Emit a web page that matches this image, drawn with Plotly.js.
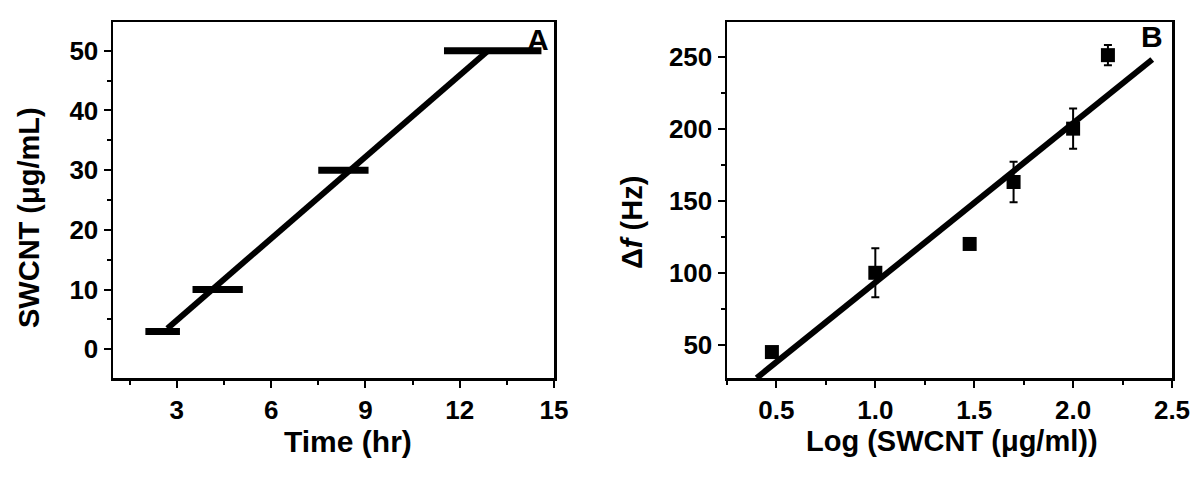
<!DOCTYPE html>
<html>
<head>
<meta charset="utf-8">
<script src="https://cdn.plot.ly/plotly-3.0.1.min.js"></script>
<style>html,body{margin:0;padding:0;background:#fff;}#chart{width:1200px;height:485px;}</style>
</head>
<body>
<div id="chart"></div>
<script>
// Panel A: SWCNT concentration steps over time
const timeStart = [2.0, 3.5, 7.5, 11.5];
const timeEnd   = [3.1, 5.1, 9.1, 14.6];
const concA     = [3, 10, 30, 50];
const fitTimeA  = [2.7, 12.9];
const fitConcA  = [3.5, 50];

// Panel B: frequency shift vs log concentration
const logConc = [0.477, 1.0, 1.477, 1.699, 2.0, 2.176];
const deltaF  = [45, 100, 120, 163, 200, 251];
const errF    = [3, 17, 3, 14, 14, 7];
const fitLogB = [0.40, 2.40];
const fitDfB  = [27, 248];

// tick labels
const xTicksA = [3, 6, 9, 12, 15];
const yTicksA = [0, 10, 20, 30, 40, 50];
const xTicksB = [0.5, 1.0, 1.5, 2.0, 2.5];
const xTickTextB = ["0.5", "1.0", "1.5", "2.0", "2.5"];
const yTicksB = [50, 100, 150, 200, 250];

const segX = [], segY = [];
for (let i = 0; i < concA.length; i++) {
  segX.push(timeStart[i], timeEnd[i], null);
  segY.push(concA[i], concA[i], null);
}

const FONT = "Arial, 'Liberation Sans', 'DejaVu Sans', sans-serif";
const tickFont = {family: FONT, size: 26, color: '#000', weight: 'bold'};
const titleFont = {family: FONT, size: 29, color: '#000', weight: 'bold'};
const titleFontBig = {family: FONT, size: 30, color: '#000', weight: 'bold'};

const traces = [
  {x: segX, y: segY, mode: 'lines', line: {color: '#000', width: 7}, xaxis: 'x', yaxis: 'y', hoverinfo: 'skip'},
  {x: fitTimeA, y: fitConcA, mode: 'lines', line: {color: '#000', width: 6}, xaxis: 'x', yaxis: 'y'},
  {x: fitLogB, y: fitDfB, mode: 'lines', line: {color: '#000', width: 6}, xaxis: 'x2', yaxis: 'y2'},
  {x: logConc, y: deltaF, mode: 'markers', marker: {symbol: 'square', size: 14, color: '#000'},
   error_y: {type: 'data', array: errF, visible: true, color: '#000', thickness: 2, width: 4},
   xaxis: 'x2', yaxis: 'y2'}
];

const axBase = {
  showline: true, linecolor: '#000', linewidth: 2.5, mirror: true,
  ticks: 'outside', ticklen: 7, tickwidth: 2, tickcolor: '#000',
  showgrid: false, zeroline: false, tickfont: tickFont, fixedrange: true
};

const yDom = [1 - 378/485, 1 - 22/485];

const layout = {
  width: 1200, height: 485,
  margin: {l: 0, r: 0, t: 0, b: 0},
  paper_bgcolor: '#fff', plot_bgcolor: '#fff',
  showlegend: false,
  xaxis: Object.assign({}, axBase, {domain: [113/1200, 554/1200], range: [0.97, 15],
    tickvals: xTicksA, minor: {ticks: 'outside', ticklen: 4, tickwidth: 2, tickcolor: '#000', dtick: 1.5, tick0: 0}, anchor: 'y'}),
  yaxis: Object.assign({}, axBase, {domain: yDom, range: [-4.8, 54.8],
    tickvals: yTicksA, minor: {ticks: 'outside', ticklen: 4, tickwidth: 2, tickcolor: '#000', dtick: 5, tick0: 0}, anchor: 'x'}),
  xaxis2: Object.assign({}, axBase, {domain: [727/1200, 1172/1200], range: [0.25, 2.5],
    tickvals: xTicksB, ticktext: xTickTextB, minor: {ticks: 'outside', ticklen: 4, tickwidth: 2, tickcolor: '#000', dtick: 0.25, tick0: 0}, anchor: 'y2'}),
  yaxis2: Object.assign({}, axBase, {domain: yDom, range: [27, 274],
    tickvals: yTicksB, minor: {ticks: 'outside', ticklen: 4, tickwidth: 2, tickcolor: '#000', dtick: 25, tick0: 0}, anchor: 'x2'}),
  annotations: [
    {text: 'A', x: 538/1200, y: 1 - 39/485, xref: 'paper', yref: 'paper', showarrow: false, font: titleFontBig, xanchor: 'center', yanchor: 'middle'},
    {text: 'B', x: 1152/1200, y: 1 - 37/485, xref: 'paper', yref: 'paper', showarrow: false, font: titleFontBig, xanchor: 'center', yanchor: 'middle'},
    {text: 'Time (hr)', x: 348/1200, y: 1 - 441/485, xref: 'paper', yref: 'paper', showarrow: false, font: titleFontBig, xanchor: 'center', yanchor: 'middle'},
    {text: 'Log (SWCNT (μg/ml))', x: 952/1200, y: 1 - 441/485, xref: 'paper', yref: 'paper', showarrow: false, font: titleFont, xanchor: 'center', yanchor: 'middle'},
    {text: 'SWCNT (μg/mL)', x: 29/1200, y: 1 - 218/485, xref: 'paper', yref: 'paper', showarrow: false, font: titleFont, textangle: -90, xanchor: 'center', yanchor: 'middle'},
    {text: 'Δ<i>f</i> (Hz)', x: 632/1200, y: 1 - 222/485, xref: 'paper', yref: 'paper', showarrow: false, font: titleFont, textangle: -90, xanchor: 'center', yanchor: 'middle'}
  ]
};

Plotly.newPlot('chart', traces, layout, {displayModeBar: false, staticPlot: true});
</script>
</body>
</html>
